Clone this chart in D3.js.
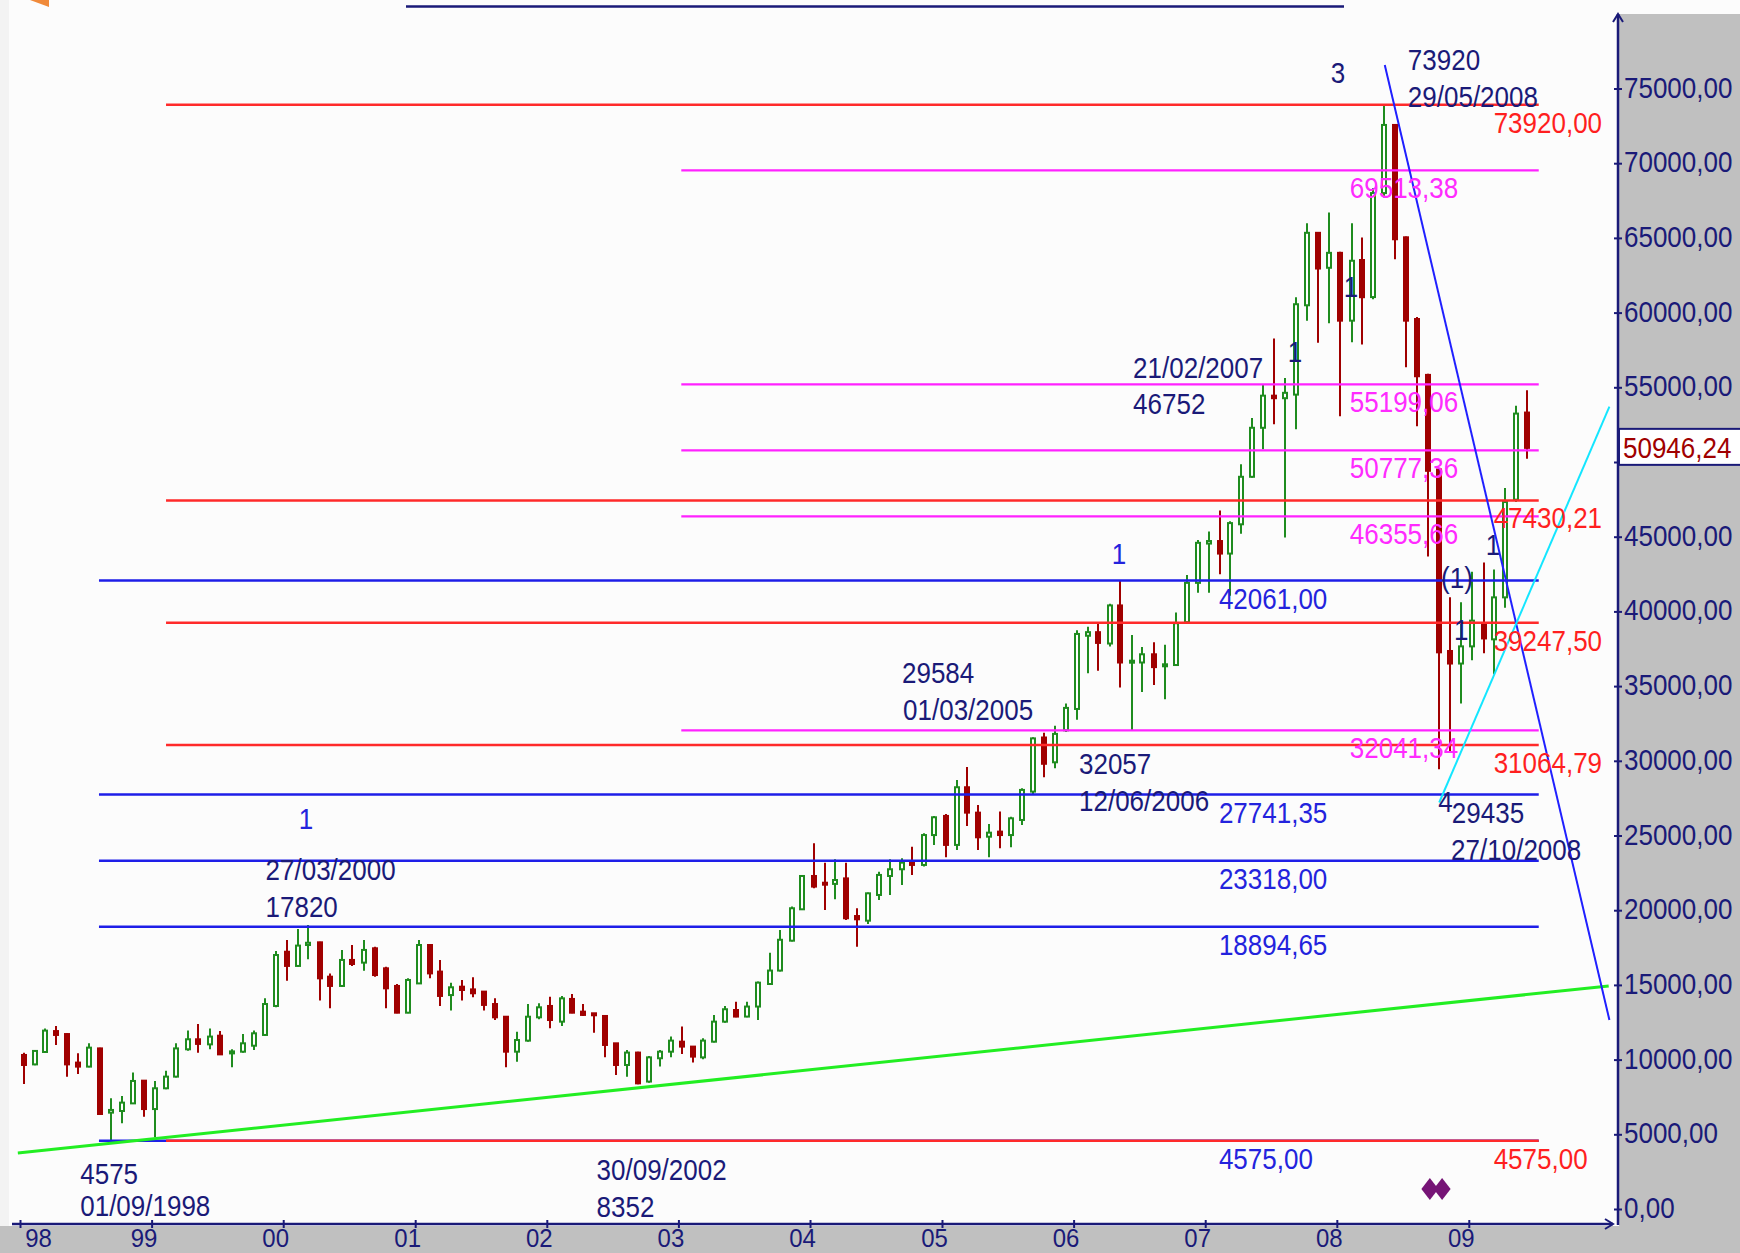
<!DOCTYPE html>
<html><head><meta charset="utf-8">
<script src="https://cdn.jsdelivr.net/npm/d3@7"></script>
<style>
html,body{margin:0;padding:0;background:#fcfcfc;}
svg{display:block;font-family:'Liberation Sans',Arial,sans-serif;}
</style></head><body>
<svg id="chart" width="1740" height="1253"></svg>
<script>
// ---------------- DATA ----------------
const months = [
 "1998-01","1998-02","1998-03","1998-04","1998-05","1998-06","1998-07","1998-08","1998-09","1998-10","1998-11","1998-12",
 "1999-01","1999-02","1999-03","1999-04","1999-05","1999-06","1999-07","1999-08","1999-09","1999-10","1999-11","1999-12",
 "2000-01","2000-02","2000-03","2000-04","2000-05","2000-06","2000-07","2000-08","2000-09","2000-10","2000-11","2000-12",
 "2001-01","2001-02","2001-03","2001-04","2001-05","2001-06","2001-07","2001-08","2001-09","2001-10","2001-11","2001-12",
 "2002-01","2002-02","2002-03","2002-04","2002-05","2002-06","2002-07","2002-08","2002-09","2002-10","2002-11","2002-12",
 "2003-01","2003-02","2003-03","2003-04","2003-05","2003-06","2003-07","2003-08","2003-09","2003-10","2003-11","2003-12",
 "2004-01","2004-02","2004-03","2004-04","2004-05","2004-06","2004-07","2004-08","2004-09","2004-10","2004-11","2004-12",
 "2005-01","2005-02","2005-03","2005-04","2005-05","2005-06","2005-07","2005-08","2005-09","2005-10","2005-11","2005-12",
 "2006-01","2006-02","2006-03","2006-04","2006-05","2006-06","2006-07","2006-08","2006-09","2006-10","2006-11","2006-12",
 "2007-01","2007-02","2007-03","2007-04","2007-05","2007-06","2007-07","2007-08","2007-09","2007-10","2007-11","2007-12",
 "2008-01","2008-02","2008-03","2008-04","2008-05","2008-06","2008-07","2008-08","2008-09","2008-10","2008-11","2008-12",
 "2009-01","2009-02","2009-03","2009-04","2009-05","2009-06"
];
const opens = [
 10310, 9680,10510,11910,11710, 9800, 9530,10750, 6450, 6560, 7070, 8590,
  6690, 8080, 8860,10690,11360,11020,11600,10420,10530,10930,11650,13590,
 17220,16270,17670,17850,15550,14930,16670,16490,17450,16110,14930,13140,
 15100,17670,15890,14320,14880,14700,14550,13720,12870,10530,11270,12830,
 13590,12540,14060,13210,13100,12920,11090, 9640,10470, 8530,10090,10530,
 11200,10870,10150,11200,12540,13320,12880,13550,15060,15960,17960,20060,
 22290,21840,21760,22130,19610,19300,21020,22290,22740,23180,23030,25030,
 26310,24370,28230,26530,24920,25260,25030,26040,27940,31560,29900,32040,
 33470,38370,38610,37850,40400,36580,36580,37130,36340,36410,39280,41910,
 44540,44710,43870,45830,49010,52290,54440,54270,54510,60490,65340,63000,
 64000,59460,63520,61040,68000,72560,65040,59570,55830,49500,37350,36510,
 37660,39220,38130,40940,47480,53310
];
const highs = [
 10460,10640,12090,12250,11760,10420,11090,10800, 7410, 7560, 9130, 8640,
  8570, 9260,11090,11940,12380,12090,11920,10690,11710,11940,14100,17270,
 18000,18740,19010,17890,15770,17340,17670,18000,17560,16220,15060,15440,
 18000,17740,16670,15150,15330,15510,14590,14100,12920,11870,13720,13770,
 14210,14260,14390,13720,13100,12990,11090,10650,10530,10240,10650,11540,
 12210,10910,11430,12990,13590,13880,13880,15220,17160,18680,20240,22360,
 24480,23180,23410,23180,20130,21180,22580,23410,23470,24250,25150,26310,
 26440,28720,29584,27040,25770,26600,26260,28160,31570,31870,32350,33830,
 38730,38970,39210,40520,42061,38420,37610,37940,37770,39930,42440,44780,
 45350,46752,46030,49850,52950,55150,58260,55630,61030,65980,65390,66700,
 64070,65980,65030,68340,73920,72620,65100,59700,55900,49600,40940,40620,
 42650,43270,42810,48260,53770,54800
];
const lows = [
  8370, 9620,10460,10980, 8860, 9040, 9480, 6320, 4575, 5740, 7030, 6180,
  4800, 8010, 8810,10600,10460,10690,10310, 9480,10460,10640,11600,13500,
 15280,16220,16710,13950,13430,14880,16270,15950,15550,13430,13100,13100,
 15060,15440,13590,13280,13950,14170,13280,12650, 9480, 9860,11200,12700,
 12100,12250,13100,12920,11800,10150, 8970, 8860, 8352, 8450, 9530,10150,
 10380, 9800,10020,11140,12470,12830,12830,12650,15000,15890,17900,20020,
 21470,20020,20730,19350,17560,19080,20680,21020,21690,22360,22920,24370,
 23540,24030,25640,24030,23540,24140,24210,25700,27710,28900,29500,31920,
 32750,35860,36030,37650,34910,32057,34600,35070,34120,36340,39210,41240,
 41240,42480,41050,45190,48940,50850,52520,44950,52190,59460,57980,59290,
 53070,58020,57860,60900,67700,63570,56340,52400,43680,29435,30650,33830,
 36730,37200,35790,40250,47320,50220
];
const closes = [
  9640,10580,11940,11650, 9680, 9530,10800, 6360, 6630, 7120, 8570, 6690,
  8080, 8860,10750,11360,11050,11540,10350,10550,11090,11760,13720,17000,
 16270,17630,17820,15440,14930,16670,16400,17340,15660,14770,13140,15330,
 17670,15770,14260,14840,14660,14440,13660,12830,10530,11310,12870,13500,
 12650,14100,13140,12990,12990,10980, 9640,10470, 8410,10150,10530,11270,
 10870,10200,11270,12540,13370,12880,13550,15150,15960,18020,20130,22290,
 21580,21760,22020,19460,19390,21130,22360,22740,23180,23030,25030,26220,
 24370,28230,26530,24880,25190,25030,26150,28050,31500,29800,31800,33540,
 38490,38610,37890,40400,36580,36700,37130,36270,36460,39210,41910,44590,
 44710,43870,45910,49010,52290,54440,54270,54630,60560,65340,62950,64000,
 59460,63470,61030,68000,72560,64910,59460,55740,49410,37260,36510,37660,
 39380,38190,40940,47320,53240,50946.24
];
const lastValue = 50946.24;

// 50000 is hidden behind the last-value box in the reference
const yTickValues = [0,5000,10000,15000,20000,25000,30000,35000,40000,45000,50000,55000,60000,65000,70000,75000];
const yTickHidden = [50000];
const yearTicks = ["1998","1999","2000","2001","2002","2003","2004","2005","2006","2007","2008","2009"];

// Fibonacci retracement sets
const blueLevels    = [4575, 18894.65, 23318, 27741.35, 42061];
const redLevels     = [4575, 31064.79, 39247.50, 47430.21, 73920];
const magentaLevels = [32041.34, 46355.66, 50777.36, 55199.06, 69513.38];
const blueStart = "1998-08-08", redStart = "1999-02-10", magentaStart = "2003-01-09", levelsEnd = "2009-07-14";
const blueLabelDate = "2007-02-08", magentaLabelDate = "2008-02-06", redLabelDate = "2009-03-11";

// trend lines [date, value]
const greenTrend = [["1997-12-26", 3750], ["2010-01-24", 14930]];
const blueTrend  = [["2008-05-13", 76570], ["2010-01-26", 12650]];
const cyanTrend  = [["2008-10-11", 27210], ["2010-01-26", 53700]];

// annotations: text, anchor date, anchor value, kind
const annotations = [
 ["3", "2007-12-15", 75368, "navy"],
 ["73920", "2008-07-16", 76238, "navy"],
 ["29/05/2008", "2008-07-16", 73762, "navy"],
 ["1", "2008-01-20", 61044, "navy"],
 ["1", "2007-08-18", 56693, "navy"],
 ["21/02/2007", "2006-06-15", 55622, "navy"],
 ["46752", "2006-06-15", 53213, "navy"],
 ["1", "2006-04-17", 43173, "blue"],
 ["(1)", "2008-10-16", 41566, "navy"],
 ["1", "2009-02-17", 43775, "navy"],
 ["1", "2008-11-21", 38086, "navy"],
 ["4", "2008-10-08", 26573, "navy"],
 ["29435", "2008-11-15", 25837, "navy"],
 ["27/10/2008", "2008-11-13", 23360, "navy"],
 ["1", "2000-02-13", 25435, "blue"],
 ["27/03/2000", "1999-11-13", 22021, "navy"],
 ["17820", "1999-11-13", 19545, "navy"],
 ["29584", "2004-09-12", 35207, "navy"],
 ["01/03/2005", "2004-09-15", 32731, "navy"],
 ["32057", "2006-01-16", 29116, "navy"],
 ["12/06/2006", "2006-01-16", 26640, "navy"],
 ["4575", "1998-06-17", 1650, "navy"],
 ["01/09/1998", "1998-06-17", -500, "navy"],
 ["30/09/2002", "2002-05-19", 1941, "navy"],
 ["8352", "2002-05-19", -535, "navy"]
];
const signalDates = ["2008-09-15", "2008-10-19"];
const signalValue = 1340;

// ---------------- DRAWING ----------------
const W = 1740, H = 1253;
const NAVY = "#1a1a78", BLUE = "#2323dd", RED = "#ff1f1f", MAG = "#ff2bff";
const GREEN_C = "#1f8c1f", RED_C = "#a00000";
const parse = d3.timeParse("%Y-%m-%d");
const svg = d3.select("#chart");

const x = d3.scaleTime().domain([new Date(1998,0,1), new Date(2010,0,1)]).range([20, 1600.4]);
const y = d3.scaleLinear().domain([0, 75000]).range([1209, 88.5]);
const fmt = v => d3.format(".2f")(v).replace(".", ",");

// backgrounds
svg.append("rect").attr("x",0).attr("y",0).attr("width",W).attr("height",H).attr("fill","#fcfcfc");
svg.append("rect").attr("x",0).attr("y",0).attr("width",9).attr("height",H).attr("fill","#f3f3f3");
svg.append("rect").attr("x",1619).attr("y",14).attr("width",W-1619).attr("height",H-14).attr("fill","#c0c0c0");
svg.append("rect").attr("x",0).attr("y",1226).attr("width",W).attr("height",H-1226).attr("fill","#c0c0c0");

// top decorations
svg.append("line").attr("x1",406).attr("x2",1344).attr("y1",6.5).attr("y2",6.5).attr("stroke",NAVY).attr("stroke-width",2.5);
svg.append("path").attr("d","M30,0 L49,0 L49,7 Z").attr("fill","#f08a3a");

function txt(g, str, px, py, color, size=26, anchor="start") {
  g.append("text").attr("transform",`translate(${px},${py}) scale(1,1.12)`)
    .attr("text-anchor",anchor).attr("fill",color).attr("font-size",size).text(str);
}

// candles
const data = months.map((m,i)=>({d:new Date(+m.slice(0,4), +m.slice(5,7)-1, 11), o:opens[i], h:highs[i], l:lows[i], c:closes[i]}));
const cg = svg.append("g");
const bw = 6;
data.forEach(k => {
  const cx = Math.round(x(k.d));
  const up = k.c >= k.o;
  const col = up ? GREEN_C : RED_C;
  const top = y(Math.max(k.o,k.c)), bot = y(Math.min(k.o,k.c));
  cg.append("line").attr("x1",cx).attr("x2",cx).attr("y1",y(k.h)).attr("y2",y(k.l)).attr("stroke",col).attr("stroke-width",2);
  const hgt = Math.max(bot-top, 2);
  if (up) {
    cg.append("rect").attr("x",cx-bw/2+1).attr("y",top).attr("width",bw-2).attr("height",hgt)
      .attr("fill","#ffffff").attr("stroke",col).attr("stroke-width",2);
  } else {
    cg.append("rect").attr("x",cx-bw/2).attr("y",top-1).attr("width",bw).attr("height",hgt+2).attr("fill",col);
  }
});

// fib levels
const lg = svg.append("g");
function levels(vals, start, color, width) {
  vals.forEach(v => {
    lg.append("line").attr("x1",x(parse(start))).attr("x2",x(parse(levelsEnd)))
      .attr("y1",y(v)).attr("y2",y(v)).attr("stroke",color).attr("stroke-width",width);
  });
}
levels(blueLevels, blueStart, "#1e1ee8", 2.5);
levels(magentaLevels, magentaStart, "#ff22ff", 2.2);
levels(redLevels, redStart, "#ff2a2a", 2.5);

// trend lines
const line = d3.line().x(p => x(parse(p[0]))).y(p => y(p[1]));
svg.append("path").attr("d", line(greenTrend)).attr("fill","none").attr("stroke","#22ee22").attr("stroke-width",3);
svg.append("path").attr("d", line(blueTrend)).attr("fill","none").attr("stroke","#2020ff").attr("stroke-width",2);
svg.append("path").attr("d", line(cyanTrend)).attr("fill","none").attr("stroke","#14e6ff").attr("stroke-width",2);

// level labels
const tg = svg.append("g");
blueLevels.forEach(v => txt(tg, fmt(v), x(parse(blueLabelDate)), y(v)+28, BLUE));
magentaLevels.forEach(v => txt(tg, fmt(v), x(parse(magentaLabelDate)), y(v)+28, MAG));
redLevels.forEach(v => txt(tg, fmt(v), x(parse(redLabelDate)), y(v)+28, RED));

// annotations
annotations.forEach(a => txt(tg, a[0], x(parse(a[1])), y(a[2]), a[3]==="blue" ? BLUE : NAVY));

// purple signals
signalDates.forEach(s => {
  const sx = x(parse(s)), sy = y(signalValue);
  svg.append("path").attr("d", `M${sx-8.5},${sy} L${sx},${sy-11} L${sx+8.5},${sy} L${sx},${sy+11} Z`).attr("fill","#761476");
});

// y axis
const yAxis = d3.axisRight(y).tickValues(yTickValues)
  .tickFormat(v => yTickHidden.includes(v) ? "" : fmt(v)).tickSize(4).tickPadding(3);
const yg = svg.append("g").attr("transform","translate(1618,0)").call(yAxis);
yg.select(".domain").remove();
yg.selectAll(".tick line").attr("x1",-4).attr("x2",4).attr("stroke",NAVY).attr("stroke-width",2);
yg.selectAll(".tick text").attr("fill",NAVY).attr("font-size",26).attr("font-family","'Liberation Sans',Arial,sans-serif")
  .attr("x",6).attr("dy","0.30em").attr("transform","scale(1,1.1)");
svg.append("line").attr("x1",1618).attr("x2",1618).attr("y1",1225).attr("y2",14).attr("stroke",NAVY).attr("stroke-width",2.5);
svg.append("path").attr("d","M1613,22 L1618,14 L1623,22").attr("fill","none").attr("stroke",NAVY).attr("stroke-width",2);

// x axis
const xAxis = d3.axisBottom(x).tickValues(yearTicks.map(s => new Date(+s,0,1))).tickFormat(d3.timeFormat("%y")).tickSize(4);
const xg = svg.append("g").attr("transform","translate(0,1224)").call(xAxis);
xg.select(".domain").remove();
xg.selectAll(".tick line").attr("y1",-4).attr("y2",4).attr("stroke",NAVY).attr("stroke-width",2);
xg.selectAll(".tick text").attr("fill",NAVY).attr("font-size",24).attr("font-family","'Liberation Sans',Arial,sans-serif")
  .attr("y",0).attr("dy",0)
  .attr("dx",(d,i) => i === 0 ? 18 : -8)
  .attr("transform","translate(0,23) scale(1,1.1)");
svg.append("line").attr("x1",12).attr("x2",1613).attr("y1",1224).attr("y2",1224).attr("stroke",NAVY).attr("stroke-width",2.5);
svg.append("path").attr("d","M1605,1219 L1613,1224 L1605,1229").attr("fill","none").attr("stroke",NAVY).attr("stroke-width",2);

// last value box
const ly = y(lastValue);
svg.append("rect").attr("x",1619).attr("y",ly-19).attr("width",W-1619+4).attr("height",36)
  .attr("fill","#ffffff").attr("stroke",NAVY).attr("stroke-width",2);
txt(svg, fmt(lastValue), 1623, ly+10, "#a00000", 26);
</script>
</body></html>
